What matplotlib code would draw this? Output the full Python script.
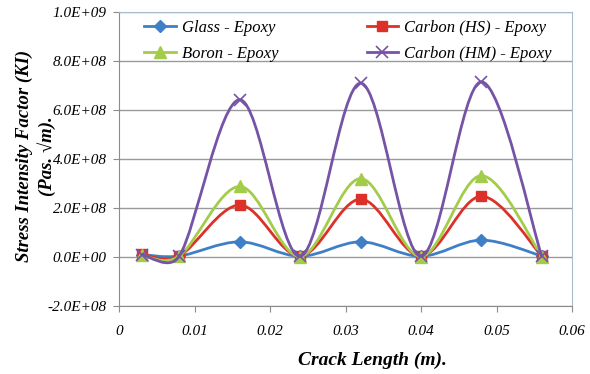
import numpy as np
import matplotlib
matplotlib.use("Agg")
import matplotlib.pyplot as plt
from matplotlib.path import Path
from matplotlib.patches import PathPatch
from matplotlib.lines import Line2D

plt.rcParams['font.family'] = ['Liberation Serif', 'DejaVu Serif']

# crack length (m)
crack = [0.003, 0.008, 0.016, 0.024, 0.032, 0.040, 0.048, 0.056]

glass = [1.0e7, 4.0e6, 6.2e7, 3.0e6, 6.2e7, 3.0e6, 6.9e7, 4.0e6]
carbon_hs = [1.2e7, 5.0e6, 2.12e8, 4.0e6, 2.36e8, 4.0e6, 2.48e8, 4.0e6]
boron = [8.0e6, 4.0e6, 2.88e8, 2.0e6, 3.2e8, 2.0e6, 3.32e8, 2.0e6]
carbon_hm = [1.0e7, 4.0e6, 6.42e8, 3.0e6, 7.1e8, 3.0e6, 7.15e8, 3.0e6]

labels = ["Glass - Epoxy", "Carbon (HS) - Epoxy", "Boron - Epoxy", "Carbon (HM) - Epoxy"]
colors = ["#3F7FC6", "#DC3129", "#A3CC4A", "#7553A6"]
markers = ["D", "s", "^", "x"]
msizes = [6, 7.5, 8, 8]
series = [glass, carbon_hs, boron, carbon_hm]


def smooth_path(ax, x, y):
    # excel-like smoothed line: bezier segments built in screen space
    pts = ax.transData.transform(np.column_stack([x, y]))
    n = len(pts)
    verts = [pts[0]]
    codes = [Path.MOVETO]
    for i in range(n - 1):
        p0 = pts[max(i - 1, 0)]
        p1 = pts[i]
        p2 = pts[i + 1]
        p3 = pts[min(i + 2, n - 1)]
        seg = np.hypot(*(p2 - p1))
        t1 = (p2 - p0) / 6.0
        t2 = (p3 - p1) / 6.0
        for t in (t1, t2):
            L = np.hypot(*t)
            if L > 0.5 * seg:
                t *= 0.5 * seg / L
        verts += [p1 + t1, p2 - t2, p2]
        codes += [Path.CURVE4] * 3
    verts = ax.transData.inverted().transform(np.array(verts))
    return Path(verts, codes)


fig = plt.figure(figsize=(5.9, 3.74), dpi=100)
ax = fig.add_axes([119 / 590, 1 - 306 / 374, 453 / 590, 294 / 374])
ax.set_xlim(0, 0.06)
ax.set_ylim(-2e8, 1e9)

ax.set_yticks(np.arange(-2e8, 1.01e9, 2e8))
ax.set_yticklabels(["%.1E" % v for v in np.arange(-2e8, 1.01e9, 2e8)])
ax.set_xticks([0, 0.01, 0.02, 0.03, 0.04, 0.05, 0.06])
ax.set_xticklabels(["0", "0.01", "0.02", "0.03", "0.04", "0.05", "0.06"])
ax.grid(axis='y', color='#9A9A9A', lw=1.0)
ax.set_axisbelow(True)
for s in ['left', 'bottom']:
    ax.spines[s].set_color('#8C8C8C')
for s in ['top', 'right']:
    ax.spines[s].set_color('#A9BCCB')
ax.tick_params(axis='both', direction='out', length=4, color='#8C8C8C',
               labelsize=11)
ax.tick_params(axis='x', pad=10)
ax.tick_params(axis='y', pad=5)
for lab in ax.get_xticklabels() + ax.get_yticklabels():
    lab.set_style('italic')

handles = []
for i, ys in enumerate(series):
    p = smooth_path(ax, crack, ys)
    ax.add_patch(PathPatch(p, fill=False, edgecolor=colors[i], lw=2.0,
                           zorder=3 + i, capstyle='round'))
    mew = 1.2 if markers[i] == 'x' else 1.0
    ax.plot(crack, ys, ls='none', marker=markers[i], ms=msizes[i],
            color=colors[i], mec=colors[i], mew=mew, zorder=3 + i)
    handles.append(Line2D([], [], color=colors[i], lw=2.0, marker=markers[i],
                          ms=msizes[i], mew=mew))

order = [0, 2, 1, 3]
ax.legend([handles[k] for k in order], [labels[k] for k in order], ncol=2,
          loc='upper left', bbox_to_anchor=(0.03, 1.012), frameon=False,
          prop={'style': 'italic', 'size': 12}, handlelength=1.9,
          columnspacing=5.3, labelspacing=0.6, handletextpad=0.35,
          borderpad=0.2)

fig.text(372 / 590, 1 - 360 / 374, "Crack Length (m).", ha='center', va='center',
         fontsize=14, fontweight='bold', style='italic')
fig.text(36 / 590, 1 - 156 / 374, "Stress Intensity Factor (KI)\n(Pas. \u221am).",
         rotation=90, ha='center', va='center', multialignment='center',
         fontsize=13.5, fontweight='bold', style='italic', linespacing=1.3)

fig.savefig("out.png", dpi=100)
